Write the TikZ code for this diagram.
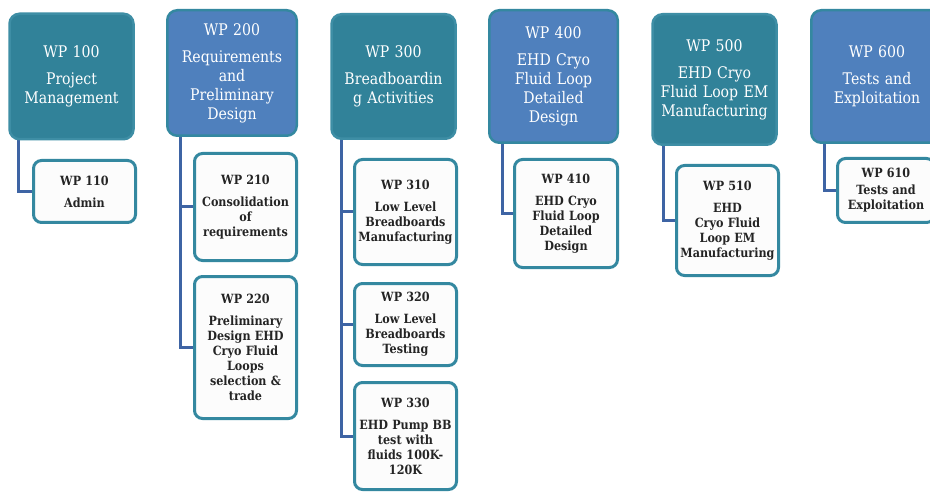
\documentclass[tikz,border=0pt]{standalone}
\usepackage{fontspec}
\setmainfont[FakeStretch=0.88]{DejaVu Serif}
\usetikzlibrary{backgrounds}

\definecolor{tealfill}{RGB}{49,130,153}
\definecolor{tealedge}{RGB}{62,142,165}
\definecolor{bluefill}{RGB}{79,128,189}
\definecolor{boxedge}{RGB}{52,136,160}
\definecolor{linkblue}{RGB}{62,100,164}
\definecolor{taskfill}{RGB}{252,252,252}
\definecolor{tasktext}{RGB}{36,36,36}

\begin{document}
\begin{tikzpicture}[x=1pt,y=-1pt,
  wphead/.style={rectangle, rounded corners=10pt, line width=2.5pt,
    text=white, align=center, inner sep=0pt, text width=124pt,
    font=\fontsize{16}{19}\selectfont},
  headteal/.style={wphead, fill=tealfill, draw=tealedge},
  headblue/.style={wphead, fill=bluefill, draw=boxedge},
  wptask/.style={rectangle, rounded corners=8pt, line width=3pt,
    draw=boxedge, fill=taskfill, text=tasktext, align=center,
    inner sep=0pt, text width=100pt, minimum width=102pt,
    font=\fontsize{12.7}{15}\selectfont\bfseries},
  link/.style={draw=linkblue, line width=3pt}]

\useasboundingbox (0,0) rectangle (930,492);
\clip (0,0) rectangle (930,492);

% work package headers
\node[headteal, minimum width=121.5pt, minimum height=125.5pt] (h1) at (71.5,76.5)
  {WP 100\\[8pt]Project\\Management};
\node[headblue, minimum width=129.5pt, minimum height=125.5pt] (h2) at (232,73)
  {WP 200\\[8pt]Requirements\\and\\Preliminary\\Design};
\node[headteal, minimum width=122.5pt, minimum height=124.5pt] (h3) at (393.5,76.5)
  {WP 300\\[8pt]Breadboardin\\g Activities};
\node[headblue, minimum width=128.5pt, minimum height=132.5pt] (h4) at (553.5,76.5)
  {WP 400\\[8pt]EHD Cryo\\Fluid Loop\\Detailed\\Design};
\node[headteal, minimum width=121.5pt, minimum height=130.5pt] (h5) at (714.5,79.5)
  {WP 500\\[8pt]EHD Cryo\\Fluid Loop EM\\Manufacturing};
\node[headblue, minimum width=131.5pt, minimum height=132.5pt] (h6) at (877,76.5)
  {WP 600\\[8pt]Tests and\\Exploitation};

% tasks
\node[wptask, minimum height=62pt] (c11) at (84.5,191.5)
  {WP 110\\[7pt]Admin};
\node[wptask, minimum height=107pt] (c21) at (245.5,207)
  {WP 210\\[7pt]Consolidation\\of\\requirements};
\node[wptask, minimum height=142pt] (c22) at (245.5,347.5)
  {WP 220\\[7pt]Preliminary\\Design EHD\\Cryo Fluid\\Loops\\selection \&\\trade};
\node[wptask, minimum height=105pt] (c31) at (405.5,212)
  {WP 310\\[7pt]Low Level\\Breadboards\\Manufacturing};
\node[wptask, minimum height=82pt] (c32) at (405.5,324.5)
  {WP 320\\[7pt]Low Level\\Breadboards\\Testing};
\node[wptask, minimum height=107pt] (c33) at (405.5,436)
  {WP 330\\[7pt]EHD Pump BB\\test with\\fluids 100K-\\120K};
\node[wptask, minimum width=103pt, minimum height=108pt] (c41) at (566,213.5)
  {WP 410\\[7pt]EHD Cryo\\Fluid Loop\\Detailed\\Design};
\node[wptask, minimum height=110pt] (c51) at (727.5,220.5)
  {WP 510\\[7pt]EHD\\Cryo Fluid\\Loop EM\\Manufacturing};
\node[wptask, text width=94pt, minimum width=97pt, minimum height=64pt] (c61) at (886,190.5)
  {WP 610\\[2pt]Tests and\\Exploitation};

% page background and the connectors from each header down to its tasks
\begin{scope}[on background layer]
  \fill[white] (0,0) rectangle (930,492);
  \draw[link] ([xshift=10pt]h1.south west) |- (c11.west);
  \draw[link] ([xshift=14pt]h2.south west) |- (c21.west);
  \draw[link] ([xshift=14pt]h2.south west) |- (c22.west);
  \draw[link] ([xshift=11pt]h3.south west) |- (c31.west);
  \draw[link] ([xshift=11pt]h3.south west) |- (c32.west);
  \draw[link] ([xshift=11pt]h3.south west) |- (c33.west);
  \draw[link] ([xshift=14pt]h4.south west) |- (c41.west);
  \draw[link] ([xshift=12pt]h5.south west) |- (c51.west);
  \draw[link] ([xshift=14pt]h6.south west) |- (c61.west);
\end{scope}
\end{tikzpicture}
\end{document}
